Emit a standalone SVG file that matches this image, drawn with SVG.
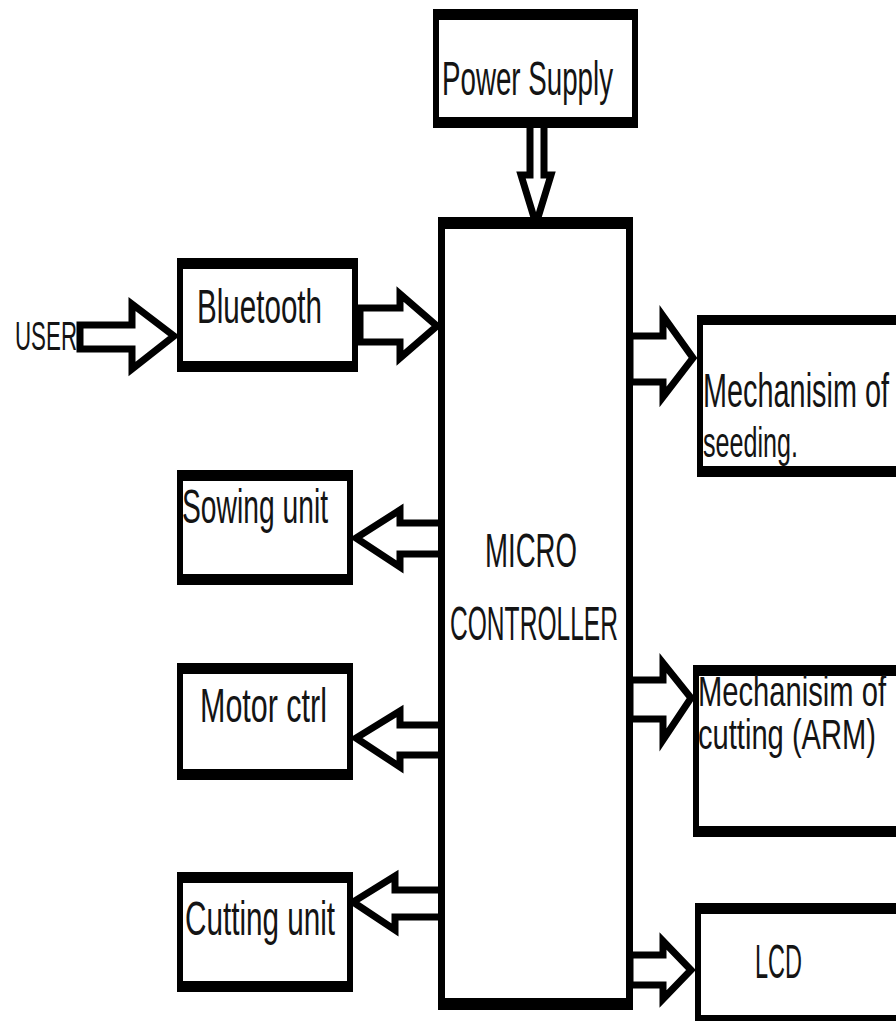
<svg xmlns="http://www.w3.org/2000/svg" width="896" height="1021" viewBox="0 0 896 1021">
<style>
.o{fill:#000}
.i{fill:#fff}
.a{fill:#fff;stroke:#000;stroke-width:7;stroke-linejoin:miter;stroke-miterlimit:10}
.t{font-family:"Liberation Sans Narrow","Liberation Sans",Arial,sans-serif;font-size:48px;fill:#141414}
.s{font-size:43px}
</style>
<rect width="896" height="1021" fill="#fff"/>
<g id="connectors">
<polygon class="a" points="530,122 530,175 521,175 536,224 551,175 544,175 544,122"/>
<polygon class="a" points="80,325 132,325 132,304 174,336 132,369 132,349 80,349"/>
<polygon class="a" points="360,308 400,308 400,294 437,326 400,358 400,342 360,342"/>
<polygon class="a" points="630,336 663,336 663,316 693,358 663,397 663,382 630,382"/>
<polygon class="a" points="443,523 400,523 400,510 356,538 400,567 400,554 443,554"/>
<polygon class="a" points="443,725 400,725 400,711 356,738 400,767 400,755 443,755"/>
<polygon class="a" points="443,890 395,890 395,876 353,902 395,930 395,917 443,917"/>
<polygon class="a" points="630,680 663,680 663,663 691,698 663,740 663,719 630,719"/>
<polygon class="a" points="630,955 663,955 663,941 691,970 663,999 663,985 630,985"/>
</g>
<g id="power">
<rect class="o" x="433" y="9" width="205" height="119"/>
<rect class="i" x="439" y="20" width="193" height="97"/>
<text class="t" x="442" y="95" textLength="171" lengthAdjust="spacingAndGlyphs">Power Supply</text>
</g>
<g id="user">
<text class="t" x="15" y="350" textLength="62" lengthAdjust="spacingAndGlyphs" style="font-size:41px">USER</text>
</g>
<g id="bluetooth">
<rect class="o" x="177" y="258" width="181" height="114"/>
<rect class="i" x="183" y="269" width="169" height="92"/>
<text class="t" x="197" y="323" textLength="125" lengthAdjust="spacingAndGlyphs">Bluetooth</text>
</g>
<g id="micro">
<rect class="o" x="438" y="217" width="195" height="793"/>
<rect class="i" x="445" y="229" width="181" height="769"/>
<text class="t" x="485" y="567" textLength="92" lengthAdjust="spacingAndGlyphs">MICRO</text>
<text class="t" x="450" y="640" textLength="168" lengthAdjust="spacingAndGlyphs">CONTROLLER</text>
</g>
<g id="seeding">
<rect class="o" x="697" y="315" width="220" height="162"/>
<rect class="i" x="703" y="325" width="220" height="141"/>
<text class="t" x="703" y="407" textLength="186" lengthAdjust="spacingAndGlyphs">Mechanisim of</text>
<text class="t s" x="703" y="457" textLength="95" lengthAdjust="spacingAndGlyphs">seeding.</text>
</g>
<g id="sowing">
<rect class="o" x="177" y="470" width="176" height="115"/>
<rect class="i" x="183" y="481" width="164" height="93"/>
<text class="t" x="182" y="523" textLength="146" lengthAdjust="spacingAndGlyphs">Sowing unit</text>
</g>
<g id="motor">
<rect class="o" x="177" y="663" width="176" height="117"/>
<rect class="i" x="183" y="674" width="164" height="95"/>
<text class="t" x="200" y="722" textLength="127" lengthAdjust="spacingAndGlyphs">Motor ctrl</text>
</g>
<g id="cutting">
<rect class="o" x="177" y="872" width="176" height="120"/>
<rect class="i" x="183" y="883" width="164" height="98"/>
<text class="t" x="185" y="935" textLength="150" lengthAdjust="spacingAndGlyphs">Cutting unit</text>
</g>
<g id="arm">
<rect class="o" x="693" y="665" width="225" height="172"/>
<rect class="i" x="699" y="676" width="225" height="150"/>
<text class="t s" x="698" y="706" textLength="188" lengthAdjust="spacingAndGlyphs">Mechanisim of</text>
<text class="t s" x="698" y="749" textLength="178" lengthAdjust="spacingAndGlyphs">cutting (ARM)</text>
</g>
<g id="lcd">
<rect class="o" x="695" y="903" width="225" height="125"/>
<rect class="i" x="701" y="914" width="225" height="101"/>
<text class="t" x="755" y="978" textLength="47" lengthAdjust="spacingAndGlyphs">LCD</text>
</g>
</svg>
